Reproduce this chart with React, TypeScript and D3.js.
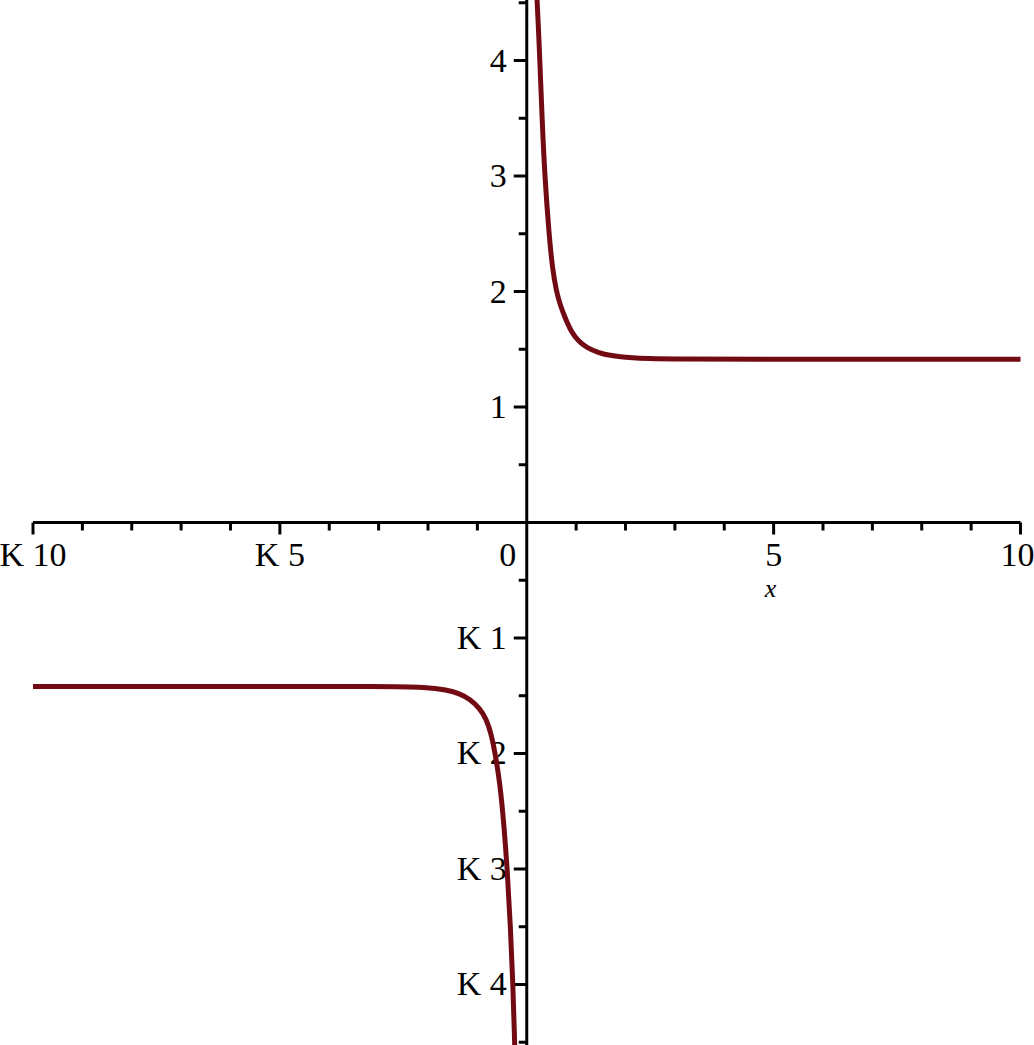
import React, { useRef, useEffect } from 'react';
import * as d3 from 'd3';

// values
const upperX = [0.2, 0.24, 0.265, 0.31, 0.365, 0.45, 0.52, 0.6, 0.68, 0.77, 0.9, 1.05, 1.21, 1.45, 1.68, 2.15, 3, 5, 7.5, 10];
const upperY = [4.6, 4.25, 4.0, 3.5, 3.0, 2.5, 2.2, 2.0, 1.88, 1.78, 1.65, 1.57, 1.515, 1.47, 1.445, 1.422, 1.415, 1.414, 1.414, 1.414];
const lowerX = [-10, -7.5, -5, -3, -2, -1.63, -1.36, -1.15, -0.95, -0.82, -0.72, -0.64, -0.545, -0.465, -0.395, -0.33, -0.28, -0.245, -0.24];
const lowerY = [-1.42, -1.42, -1.42, -1.42, -1.425, -1.45, -1.48, -1.53, -1.61, -1.7, -1.83, -2.0, -2.25, -2.6, -3.0, -3.5, -4.0, -4.5, -4.6];

const xTicks = d3.range(-10, 11, 1);
const xLabels = [
  { v: -10, t: 'K 10' },
  { v: -5, t: 'K 5' },
  { v: 5, t: '5' },
  { v: 10, t: '10' },
];
const yTicks = d3.range(-4.5, 4.51, 0.5).filter(v => v !== 0);
const yLabels = [
  { v: 4, t: '4' }, { v: 3, t: '3' }, { v: 2, t: '2' }, { v: 1, t: '1' },
  { v: -1, t: 'K 1' }, { v: -2, t: 'K 2' }, { v: -3, t: 'K 3' }, { v: -4, t: 'K 4' },
];

function Plot() {
  const ref = useRef(null);

  useEffect(() => {
    const width = 1034;
    const height = 1045;
    const svg = d3.select(ref.current);
    svg.selectAll('*').remove();
    svg.attr('width', width).attr('height', height).style('background', 'white');

    const x = d3.scaleLinear().domain([-10, 10]).range([33, 1020.5]);
    const y = d3.scaleLinear().domain([-4.524, 4.524]).range([height, 0]);
    const x0 = x(0);
    const y0 = y(0);
    const font = "'Liberation Serif', 'DejaVu Serif', serif";

    // axes
    svg.append('line')
      .attr('x1', x(-10)).attr('x2', x(10)).attr('y1', y0).attr('y2', y0)
      .attr('stroke', 'black').attr('stroke-width', 3);
    svg.append('line')
      .attr('x1', x0).attr('x2', x0).attr('y1', 0).attr('y2', height)
      .attr('stroke', 'black').attr('stroke-width', 3);

    svg.selectAll('.xt').data(xTicks.filter(v => v !== 0)).enter().append('line')
      .attr('x1', d => x(d)).attr('x2', d => x(d))
      .attr('y1', y0).attr('y2', d => y0 + (d % 5 === 0 ? 12 : 8))
      .attr('stroke', 'black').attr('stroke-width', 3);

    svg.selectAll('.yt').data(yTicks).enter().append('line')
      .attr('y1', d => y(d)).attr('y2', d => y(d))
      .attr('x1', x0).attr('x2', d => x0 - (Number.isInteger(d) ? 13 : 8))
      .attr('stroke', 'black').attr('stroke-width', 3);

    svg.selectAll('.xl').data(xLabels).enter().append('text')
      .attr('x', d => x(d.v) - (d.v === 10 ? 3 : 0)).attr('y', 566)
      .attr('text-anchor', 'middle')
      .attr('font-family', font).attr('font-size', 34)
      .text(d => d.t);

    svg.append('text')
      .attr('x', x0 - 19).attr('y', 566)
      .attr('text-anchor', 'middle')
      .attr('font-family', font).attr('font-size', 34)
      .text('0');

    svg.append('text')
      .attr('x', x(5) - 3).attr('y', 597)
      .attr('text-anchor', 'middle')
      .attr('font-family', font).attr('font-size', 26).attr('font-style', 'italic')
      .text('x');

    svg.selectAll('.yl').data(yLabels).enter().append('text')
      .attr('x', x0 - 20).attr('y', d => y(d.v) + 11)
      .attr('text-anchor', 'end')
      .attr('font-family', font).attr('font-size', 34)
      .text(d => d.t);

    const line = d3.line()
      .x(d => x(d[0]))
      .y(d => y(d[1]))
      .curve(d3.curveBasis);

    const upper = upperX.map((v, i) => [v, upperY[i]]);
    const lower = lowerX.map((v, i) => [v, lowerY[i]]);

    [upper, lower].forEach(pts => {
      svg.append('path')
        .attr('d', line(pts))
        .attr('fill', 'none')
        .attr('stroke', '#720a13')
        .attr('stroke-width', 5)
        .attr('stroke-linejoin', 'round');
    });
  }, []);

  return <svg ref={ref} style={{ position: 'absolute', left: 0, top: 0 }}></svg>;
}

export default function App() {
  return <Plot />;
}
